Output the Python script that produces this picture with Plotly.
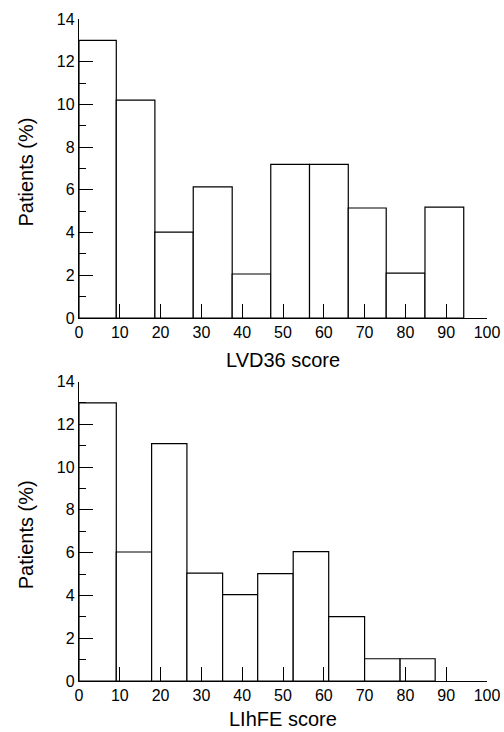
import numpy as np
import plotly.graph_objects as go

# ---- data ----
lvd36_edges = [0, 9.14, 18.6, 28.0, 37.55, 47.0, 56.5, 66.0, 75.3, 84.8, 94.3]
lvd36_pct = [13.0, 10.2, 4.02, 6.14, 2.06, 7.19, 7.19, 5.15, 2.1, 5.19]

lihfe_edges = [0, 9.14, 17.8, 26.45, 35.2, 43.8, 52.5, 61.2, 70.0, 78.7, 87.3]
lihfe_pct = [13.0, 6.03, 11.1, 5.04, 4.04, 5.02, 6.05, 3.01, 1.04, 1.04]

x_ticks = [0, 10, 20, 30, 40, 50, 60, 70, 80, 90, 100]
y_ticks = [0, 2, 4, 6, 8, 10, 12, 14]
x_titles = ["LVD36 score", "LIhFE score"]
y_title = "Patients (%)"

W, H = 504, 732
FONT = "Liberation Sans, Arial, Helvetica, sans-serif"

def px_x(p):
    return p / W

def px_y(p):
    return 1 - p / H

fig = go.Figure()

for i, (edges, vals) in enumerate([(lvd36_edges, lvd36_pct), (lihfe_edges, lihfe_pct)]):
    e = np.array(edges, dtype=float)
    mids = (e[:-1] + e[1:]) / 2
    widths = np.diff(e)
    suffix = "" if i == 0 else "2"
    fig.add_trace(go.Bar(
        x=mids, y=vals, width=widths,
        marker=dict(color="white", line=dict(color="black", width=1.2)),
        xaxis="x" + suffix, yaxis="y" + suffix,
        showlegend=False, hoverinfo="skip", cliponaxis=False,
    ))

# pixel geometry of the two panels
panels = [dict(top=19, bottom=318, title_y=360), dict(top=381.5, bottom=681, title_y=719)]
left, right = 79, 487

axis_common_x = dict(
    range=[0, 100], tickvals=x_ticks, ticks="inside", ticklen=14, tickwidth=1,
    tickcolor="black", showline=True, linecolor="black", linewidth=1.2,
    showgrid=False, zeroline=False, automargin=False,
    tickfont=dict(size=16, color="black", family=FONT),
    domain=[px_x(left), px_x(right)], fixedrange=True,
)
axis_common_y = dict(
    range=[0, 14], tickvals=y_ticks, ticks="inside", ticklen=14, tickwidth=1,
    tickcolor="black", showline=True, linecolor="black", linewidth=1.2,
    showgrid=False, zeroline=False, automargin=False,
    tickfont=dict(size=16, color="black", family=FONT),
    minor=dict(ticks="inside", ticklen=7, dtick=1, tickcolor="black", tickwidth=1),
    fixedrange=True,
)

fig.update_layout(
    template="none",
    width=W, height=H,
    margin=dict(l=0, r=0, t=0, b=0, autoexpand=False),
    paper_bgcolor="white", plot_bgcolor="white",
    bargap=0,
    xaxis=dict(axis_common_x, anchor="y"),
    yaxis=dict(axis_common_y, anchor="x",
               domain=[px_y(panels[0]["bottom"]), px_y(panels[0]["top"])]),
    xaxis2=dict(axis_common_x, anchor="y2"),
    yaxis2=dict(axis_common_y, anchor="x2",
                domain=[px_y(panels[1]["bottom"]), px_y(panels[1]["top"])]),
    font=dict(family=FONT, color="black"),
)

annotations = []
for i, p in enumerate(panels):
    annotations.append(dict(
        text=x_titles[i], xref="paper", yref="paper",
        x=px_x((left + right) / 2), y=px_y(p["title_y"]),
        xanchor="center", yanchor="middle", showarrow=False,
        font=dict(size=20, color="black", family=FONT),
    ))
    annotations.append(dict(
        text=y_title, xref="paper", yref="paper",
        x=px_x(26), y=px_y((p["top"] + p["bottom"]) / 2 + 4),
        xanchor="center", yanchor="middle", showarrow=False, textangle=-90,
        font=dict(size=20, color="black", family=FONT),
    ))
fig.update_layout(annotations=annotations)

fig.write_html("out.html",
               config={"displayModeBar": False, "staticPlot": True},
               post_script="document.body.style.margin='0';document.body.style.overflow='hidden';")
